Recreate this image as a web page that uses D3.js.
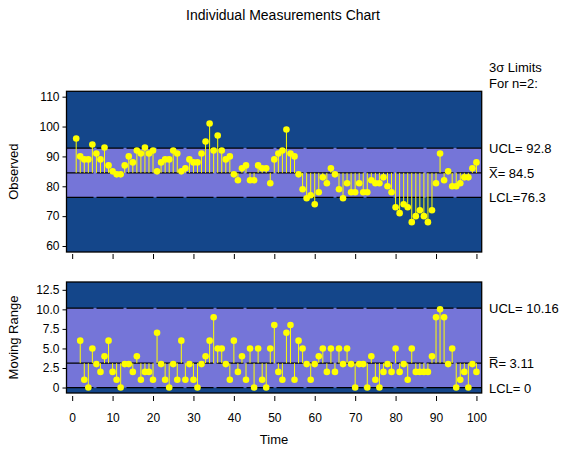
<!DOCTYPE html>
<html><head><meta charset="utf-8">
<script src="https://cdn.jsdelivr.net/npm/d3@7"></script>
<style>body{margin:0;background:#fff}text{font-family:"Liberation Sans",Arial,sans-serif}</style>
</head><body><svg id="c" width="565" height="450"></svg>
<script>
const observed=[96,90,89,89,94,91,89,93,87,85,84,84,87,90,88,92,91,93,91,92,85,88,89,89,92,91,85,86,89,88,88,91,95,101,92,97,92,89,90,84,82,86,87,82,82,87,86,86,81,89,91,92,99,91,90,84,79,76,77,74,78,83,81,86,84,79,76,81,78,78,81,78,78,82,81,81,83,80,78,73,71,74,73,68,70,72,70,68,72,81,91,82,85,80,80,81,83,83,86,88];
const movingRange=[6,1,0,5,3,2,4,6,2,1,0,3,3,2,4,1,2,2,1,7,3,1,0,3,1,6,1,3,1,0,3,4,6,9,5,5,3,1,6,2,4,1,5,0,5,1,0,5,8,2,1,7,8,1,6,5,3,1,3,4,5,2,5,2,5,3,5,3,0,3,3,0,4,1,0,2,3,2,5,2,3,1,5,2,2,2,2,4,9,10,9,3,5,0,1,2,0,3,2];
const obsLimits={ucl:92.8,mean:84.5,lcl:76.3};
const mrLimits={ucl:10.16,mean:3.11,lcl:0};
const xTicks=[0,10,20,30,40,50,60,70,80,90,100];
const obsTicks=[60,70,80,90,100,110];
const mrTicks=[0,2.5,5,7.5,10,12.5];
const svg=d3.select("#c");
const dark="#14468a",band="#7575d8",yel="#ffff00";
const x=d3.scaleLinear().domain([-1.4,101.3]).range([66.5,481.7]);
function panel(top,bot,dom,ticks,fmt,vals,start,lim,label,rlabels){
  const y=d3.scaleLinear().domain(dom).range([bot,top]);
  const g=svg.append("g");
  g.append("rect").attr("x",66.5).attr("y",top).attr("width",415.2).attr("height",bot-top).attr("fill",dark);
  g.append("rect").attr("x",66.5).attr("y",y(lim.ucl)).attr("width",415.2).attr("height",y(lim.lcl)-y(lim.ucl)).attr("fill",band);
  [lim.ucl,lim.mean,lim.lcl].forEach(v=>g.append("line").attr("x1",66.5).attr("x2",481.7).attr("y1",y(v)).attr("y2",y(v)).attr("stroke","#000").attr("stroke-width",1.3).attr("stroke-dasharray","27,3"));
  g.append("rect").attr("x",66.5).attr("y",top).attr("width",415.2).attr("height",bot-top).attr("fill","none").attr("stroke","#000").attr("stroke-width",1.3);
  const pts=vals.map((v,i)=>({t:i+start,v}));
  g.selectAll(".s").data(pts).join("line").attr("x1",d=>x(d.t)).attr("x2",d=>x(d.t)).attr("y1",y(lim.mean)).attr("y2",d=>y(d.v)).attr("stroke",yel).attr("stroke-width",1);
  g.selectAll(".p").data(pts).join("circle").attr("cx",d=>x(d.t)).attr("cy",d=>y(d.v)).attr("r",3.3).attr("fill",yel);
  const ax=g.append("g").attr("transform","translate(66.5,0)").call(d3.axisLeft(y).tickValues(ticks).tickFormat(fmt).tickSize(4).tickSizeOuter(0));
  ax.select(".domain").remove();
  ax.selectAll("text").attr("font-size",12).attr("fill","#000");
  svg.append("text").attr("transform",`translate(18,${(top+bot)/2}) rotate(-90)`).attr("text-anchor","middle").attr("font-size",13).text(label);
  rlabels.forEach(([v,t])=>{
    const tx=svg.append("text").attr("x",489).attr("y",y(v)+5).attr("font-size",13).text(t);
  });
  return y;
}
const y1=panel(91.3,252,[58,111.8],obsTicks,d3.format("d"),observed,1,obsLimits,"Observed",
  [[obsLimits.ucl,"UCL= 92.8"],[obsLimits.lcl,"LCL=76.3"]]);
svg.append("text").attr("x",489).attr("y",y1(obsLimits.mean)+5).attr("font-size",13).text("X\u0305= 84.5");
const y2=panel(282,393,[-0.7,13.5],mrTicks,d3.format(".1f"),movingRange,2,mrLimits,"Moving Range",
  [[mrLimits.ucl,"UCL= 10.16"],[mrLimits.mean,"R\u0305= 3.11"],[mrLimits.lcl,"LCL= 0"]]);
svg.selectAll("g").filter(function(){return this.parentNode.tagName==="svg"}).selectAll(".tick text").filter(function(){return this.textContent==="0.0"}).text("0");
const xa=svg.append("g").attr("transform","translate(0,396)").call(d3.axisBottom(x).tickValues(xTicks).tickSize(5).tickSizeOuter(0));
xa.select(".domain").remove();
xa.selectAll("text").attr("font-size",12).attr("dy","1.5em");
const xa1=svg.append("g").attr("transform","translate(0,254)").call(d3.axisBottom(x).tickValues(xTicks).tickSize(5).tickFormat(""));
xa1.select(".domain").remove();
svg.append("text").attr("x",274).attr("y",444).attr("text-anchor","middle").attr("font-size",13).text("Time");
svg.append("text").attr("x",283).attr("y",20).attr("text-anchor","middle").attr("font-size",14).text("Individual Measurements Chart");
svg.append("text").attr("x",489).attr("y",72).attr("font-size",13).text("3σ  Limits");
svg.append("text").attr("x",489).attr("y",88).attr("font-size",13).text("For  n=2:");
</script></body></html>
